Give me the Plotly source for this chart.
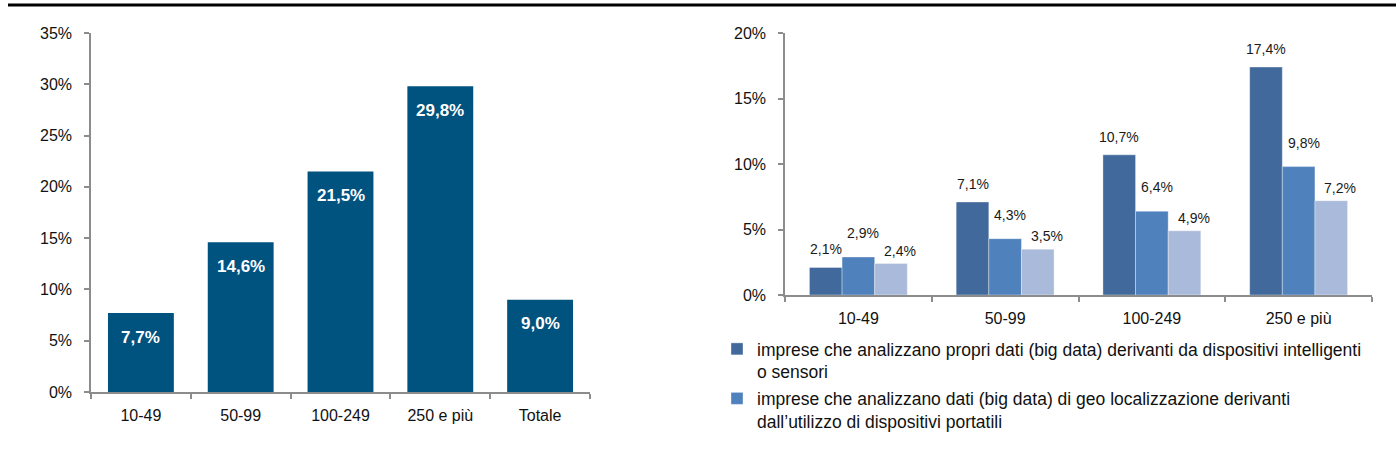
import plotly.graph_objects as go

# Left chart data
left_categories = ["10-49", "50-99", "100-249", "250 e più", "Totale"]
left_values = [7.7, 14.6, 21.5, 29.8, 9.0]

# Right chart data
right_categories = ["10-49", "50-99", "100-249", "250 e più"]
series_names = [
    "imprese che analizzano propri dati (big data) derivanti da dispositivi intelligenti<br>o sensori",
    "imprese che analizzano dati (big data) di geo localizzazione derivanti<br>dall’utilizzo di dispositivi portatili",
    "imprese che analizzano dati (big data) generati da social media",
]
series_values = [
    [2.1, 7.1, 10.7, 17.4],
    [2.9, 4.3, 6.4, 9.8],
    [2.4, 3.5, 4.9, 7.2],
]
series_colors = ["#41699B", "#4F81BD", "#AABADA"]
left_ticks = [0, 5, 10, 15, 20, 25, 30, 35]
right_ticks = [0, 5, 10, 15, 20]

# label placement styles (pixel offsets per series)
label_dy = [18, 24, 13]
label_dx = [0, 5, 9]

NARROW = "Liberation Sans Narrow, Arial Narrow, Liberation Sans, Arial, sans-serif"
REG = "Liberation Sans, Arial, sans-serif"

W, H = 1396, 466
RIGHT_DOMAIN = [785 / W, 1372 / W]
BARGAP = 0.333


def fmt(v):
    return f"{v:.1f}".replace(".", ",") + "%"


fig = go.Figure()

fig.add_trace(go.Bar(
    x=left_categories, y=left_values, xaxis="x", yaxis="y",
    marker=dict(color="#00527F", line=dict(width=0)),
    width=0.66, showlegend=False, hoverinfo="x+y",
))

for i, (name, vals, col) in enumerate(zip(series_names, series_values, series_colors)):
    fig.add_trace(go.Bar(
        x=right_categories, y=vals, name=name, xaxis="x2", yaxis="y2",
        marker=dict(color=col, line=dict(width=0.6, color="rgba(255,255,255,0.6)")),
        showlegend=(i < 2), legendgroup=f"g{i}",
    ))

annotations = []
# left labels: inside, near the top of each bar
for c, v in zip(left_categories, left_values):
    annotations.append(dict(
        x=c, y=v, xref="x", yref="y", text=fmt(v), showarrow=False,
        yanchor="middle", yshift=-24,
        font=dict(family=NARROW, size=17, color="white", weight="bold"),
    ))
# right labels: above each bar of the group
cat_px = (RIGHT_DOMAIN[1] - RIGHT_DOMAIN[0]) * W / len(right_categories)
bar_px = cat_px * (1 - BARGAP) / len(series_values)
for i, vals in enumerate(series_values):
    for c, v in zip(right_categories, vals):
        annotations.append(dict(
            x=c, y=v, xref="x2", yref="y2", text=fmt(v), showarrow=False,
            yanchor="middle", yshift=label_dy[i],
            xshift=(i - 1) * bar_px + label_dx[i],
            font=dict(family=REG, size=14, color="#1a1a1a"),
        ))

axis_common = dict(showline=True, linecolor="#8c8c8c", linewidth=1.5,
                   ticks="outside", ticklen=5, tickcolor="#8c8c8c", tickwidth=1.5,
                   showgrid=False, zeroline=False, fixedrange=True,
                   automargin=False)

fig.update_layout(
    width=W, height=H,
    margin=dict(l=0, r=0, t=0, b=0, autoexpand=False),
    paper_bgcolor="white", plot_bgcolor="white",
    barmode="group", bargap=BARGAP, bargroupgap=0,
    xaxis=dict(domain=[91 / W, 590 / W], anchor="y", type="category",
               range=[-0.5, 4.5], tickson="boundaries", ticklabelstandoff=8,
               tickfont=dict(family=NARROW, size=16, color="#111"), **axis_common),
    yaxis=dict(domain=[(H - 392) / H, (H - 33) / H], anchor="x", range=[0, 35],
               tickvals=left_ticks, ticktext=[f"{t}%" for t in left_ticks],
               ticklabelstandoff=9,
               tickfont=dict(family=NARROW, size=16, color="#111"), **axis_common),
    xaxis2=dict(domain=RIGHT_DOMAIN, anchor="y2", type="category",
                range=[-0.5, 3.5], tickson="boundaries", ticklabelstandoff=8,
                tickfont=dict(family=REG, size=16, color="#111"), **axis_common),
    yaxis2=dict(domain=[(H - 295) / H, (H - 33) / H], anchor="x2", range=[0, 20],
                tickvals=right_ticks, ticktext=[f"{t}%" for t in right_ticks],
                ticklabelstandoff=9,
                tickfont=dict(family=REG, size=16, color="#111"), **axis_common),
    legend=dict(x=717 / W, y=(H - 331) / H, xanchor="left", yanchor="top",
                font=dict(family=REG, size=17.5, color="#111"),
                bgcolor="rgba(0,0,0,0)", tracegroupgap=1, valign="top",
                itemwidth=30, traceorder="grouped"),
    annotations=annotations,
    shapes=[dict(type="line", xref="paper", yref="paper",
                 x0=8 / W, x1=1, y0=(H - 5) / H, y1=(H - 5) / H,
                 line=dict(color="black", width=3))],
)

fig.write_html("out.html", config={"displayModeBar": False},
               post_script="document.body.style.margin='0';")
